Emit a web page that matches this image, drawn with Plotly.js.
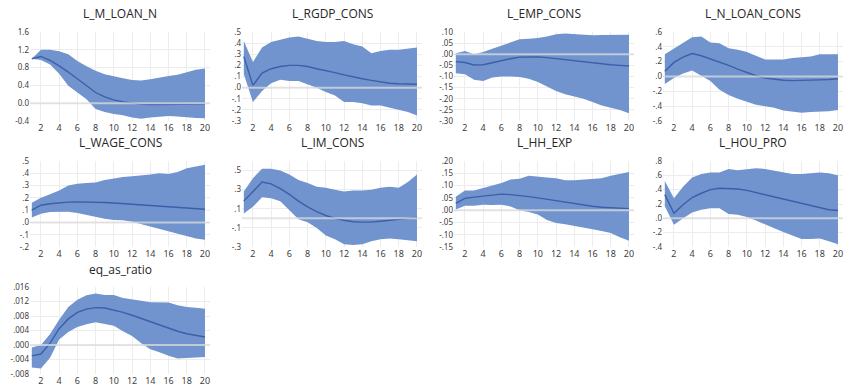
<!DOCTYPE html>
<html>
<head>
<meta charset="utf-8">
<script src="https://cdn.plot.ly/plotly-3.0.1.min.js"></script>
<style>
html,body{margin:0;padding:0;background:#fff;}
#chart{width:846px;height:387px;}
</style>
</head>
<body>
<div id="chart"></div>
<script>
var periods = [1,2,3,4,5,6,7,8,9,10,11,12,13,14,15,16,17,18,19,20];
var xTicks = [2,4,6,8,10,12,14,16,18,20];

var titles = ["L_M_LOAN_N","L_RGDP_CONS","L_EMP_CONS","L_N_LOAN_CONS","L_WAGE_CONS","L_IM_CONS","L_HH_EXP","L_HOU_PRO","eq_as_ratio"];

// L_M_LOAN_N
var mLoanMid = [1.0,1.05,0.96,0.84,0.70,0.54,0.38,0.24,0.14,0.075,0.03,0.0,-0.02,-0.03,-0.03,-0.03,-0.03,-0.025,-0.02,-0.02];
var mLoanUp  = [1.0,1.20,1.20,1.17,1.10,0.95,0.83,0.73,0.65,0.60,0.56,0.52,0.51,0.54,0.58,0.61,0.64,0.69,0.75,0.78];
var mLoanLo  = [1.0,0.97,0.87,0.66,0.39,0.24,0.09,-0.13,-0.20,-0.24,-0.27,-0.32,-0.35,-0.32,-0.30,-0.29,-0.30,-0.32,-0.33,-0.34];

// L_RGDP_CONS
var rgdpMid = [0.28,0.02,0.13,0.17,0.19,0.20,0.20,0.19,0.17,0.155,0.135,0.115,0.095,0.08,0.065,0.05,0.04,0.035,0.03,0.03];
var rgdpUp  = [0.42,0.23,0.36,0.41,0.43,0.45,0.46,0.44,0.42,0.41,0.41,0.42,0.39,0.37,0.31,0.33,0.34,0.34,0.35,0.36];
var rgdpLo  = [0.12,-0.13,-0.03,0.04,0.07,0.06,0.06,0.03,0.0,-0.04,-0.07,-0.13,-0.13,-0.14,-0.16,-0.16,-0.18,-0.20,-0.22,-0.25];

// L_EMP_CONS
var empMid = [-0.033,-0.037,-0.048,-0.047,-0.038,-0.028,-0.02,-0.013,-0.012,-0.012,-0.015,-0.02,-0.025,-0.03,-0.035,-0.04,-0.044,-0.047,-0.05,-0.053];
var empUp  = [0.005,0.015,0.0,0.01,0.025,0.04,0.055,0.067,0.07,0.073,0.08,0.09,0.093,0.09,0.085,0.085,0.087,0.088,0.087,0.088];
var empLo  = [-0.085,-0.09,-0.115,-0.12,-0.105,-0.10,-0.10,-0.102,-0.11,-0.125,-0.145,-0.165,-0.18,-0.19,-0.20,-0.215,-0.23,-0.24,-0.25,-0.265];

// L_N_LOAN_CONS
var nLoanMid = [0.07,0.19,0.26,0.31,0.28,0.24,0.20,0.15,0.10,0.05,0.01,-0.02,-0.04,-0.05,-0.055,-0.055,-0.05,-0.045,-0.04,-0.03];
var nLoanUp  = [0.30,0.38,0.45,0.53,0.54,0.46,0.45,0.38,0.36,0.33,0.28,0.23,0.23,0.23,0.25,0.26,0.27,0.30,0.30,0.30];
var nLoanLo  = [-0.10,-0.02,0.04,0.08,0.01,-0.06,-0.18,-0.25,-0.30,-0.34,-0.38,-0.40,-0.42,-0.46,-0.48,-0.49,-0.48,-0.48,-0.47,-0.45];

// L_WAGE_CONS
var wageMid = [0.10,0.14,0.152,0.16,0.165,0.167,0.167,0.165,0.162,0.158,0.153,0.148,0.143,0.138,0.133,0.128,0.123,0.118,0.113,0.107];
var wageUp  = [0.16,0.20,0.23,0.26,0.30,0.315,0.32,0.325,0.345,0.36,0.37,0.375,0.38,0.39,0.40,0.395,0.41,0.44,0.455,0.47];
var wageLo  = [0.04,0.07,0.085,0.087,0.087,0.077,0.06,0.043,0.03,0.02,0.018,0.005,-0.015,-0.035,-0.05,-0.07,-0.09,-0.11,-0.13,-0.14];

// L_IM_CONS
var imMid = [0.18,0.28,0.38,0.36,0.31,0.25,0.18,0.12,0.07,0.03,0.0,-0.02,-0.035,-0.04,-0.04,-0.03,-0.02,-0.01,0.0,0.01];
var imUp  = [0.28,0.42,0.52,0.52,0.50,0.46,0.40,0.37,0.33,0.32,0.30,0.28,0.29,0.29,0.30,0.32,0.33,0.32,0.38,0.46];
var imLo  = [0.05,0.12,0.22,0.21,0.18,0.09,-0.01,-0.04,-0.10,-0.18,-0.22,-0.27,-0.28,-0.27,-0.24,-0.22,-0.21,-0.22,-0.23,-0.24];

// L_HH_EXP
var hhMid = [0.028,0.048,0.053,0.058,0.062,0.065,0.063,0.06,0.055,0.05,0.044,0.038,0.032,0.026,0.021,0.016,0.012,0.009,0.007,0.006];
var hhUp  = [0.055,0.08,0.08,0.09,0.10,0.11,0.125,0.128,0.14,0.138,0.133,0.13,0.122,0.122,0.125,0.125,0.13,0.14,0.148,0.155];
var hhLo  = [0.003,0.018,0.018,0.022,0.021,0.022,0.015,0.0,-0.008,-0.018,-0.04,-0.052,-0.057,-0.065,-0.072,-0.078,-0.085,-0.093,-0.11,-0.125];

// L_HOU_PRO
var houMid = [0.33,0.07,0.19,0.29,0.35,0.40,0.42,0.42,0.41,0.39,0.36,0.33,0.30,0.26,0.23,0.20,0.17,0.14,0.12,0.11];
var houUp  = [0.52,0.28,0.44,0.57,0.62,0.64,0.64,0.69,0.67,0.68,0.70,0.69,0.67,0.64,0.62,0.62,0.63,0.64,0.63,0.60];
var houLo  = [0.17,-0.09,0.0,0.08,0.12,0.14,0.14,0.06,0.05,0.02,-0.03,-0.09,-0.14,-0.19,-0.24,-0.29,-0.29,-0.28,-0.32,-0.36];

// eq_as_ratio
var eqMid = [-0.003,-0.0025,0.0005,0.0045,0.0072,0.009,0.0099,0.0103,0.0102,0.0097,0.009,0.0082,0.0073,0.0064,0.0055,0.0046,0.0038,0.0031,0.0026,0.0022];
var eqUp  = [-0.0007,0.0,0.003,0.007,0.0105,0.0125,0.0137,0.0142,0.0138,0.0138,0.013,0.0127,0.0122,0.0118,0.0118,0.0117,0.011,0.0105,0.0103,0.010];
var eqLo  = [-0.0062,-0.0065,-0.0035,0.0015,0.0036,0.005,0.0057,0.0063,0.0058,0.0053,0.0038,0.0025,0.0005,-0.0012,-0.002,-0.003,-0.0037,-0.0035,-0.0034,-0.0033];

// y tick values per panel
var yTicks1 = [-0.4,0.0,0.4,0.8,1.2,1.6];
var yTicks2 = [-0.3,-0.2,-0.1,0.0,0.1,0.2,0.3,0.4,0.5];
var yTicks3 = [-0.30,-0.25,-0.20,-0.15,-0.10,-0.05,0.00,0.05,0.10];
var yTicks4 = [-0.6,-0.4,-0.2,0.0,0.2,0.4,0.6];
var yTicks5 = [-0.2,-0.1,0.0,0.1,0.2,0.3,0.4,0.5];
var yTicks6 = [-0.3,-0.1,0.1,0.3,0.5];
var yTicks7 = [-0.15,-0.10,-0.05,0.00,0.05,0.10,0.15,0.20];
var yTicks8 = [-0.4,-0.2,0.0,0.2,0.4,0.6,0.8];
var yTicks9 = [-0.008,-0.004,0.000,0.004,0.008,0.012,0.016];

var panels = [
  {mid:mLoanMid, up:mLoanUp, lo:mLoanLo, ticks:yTicks1, range:[-0.4,1.6], dec:1, lead:true},
  {mid:rgdpMid, up:rgdpUp, lo:rgdpLo, ticks:yTicks2, range:[-0.3,0.5], dec:1, lead:false},
  {mid:empMid, up:empUp, lo:empLo, ticks:yTicks3, range:[-0.30,0.10], dec:2, lead:false},
  {mid:nLoanMid, up:nLoanUp, lo:nLoanLo, ticks:yTicks4, range:[-0.6,0.6], dec:1, lead:false},
  {mid:wageMid, up:wageUp, lo:wageLo, ticks:yTicks5, range:[-0.2,0.5], dec:1, lead:false},
  {mid:imMid, up:imUp, lo:imLo, ticks:yTicks6, range:[-0.3,0.6], dec:1, lead:false},
  {mid:hhMid, up:hhUp, lo:hhLo, ticks:yTicks7, range:[-0.15,0.20], dec:2, lead:false},
  {mid:houMid, up:houUp, lo:houLo, ticks:yTicks8, range:[-0.4,0.8], dec:1, lead:false},
  {mid:eqMid, up:eqUp, lo:eqLo, ticks:yTicks9, range:[-0.008,0.016], dec:3, lead:false}
];

function fmt(v, dec, lead){
  var s = v.toFixed(dec);
  if (s.charAt(0) === '-' && Number(s) === 0) s = s.slice(1);
  if (!lead) s = s.replace(/^(-?)0\./, '$1.');
  return s;
}

var W = 846, H = 387;
var colLeft = [30, 242, 454, 663];
var plotW = 180;
var rowTop = [32, 161, 287];
var rowBot = [121, 247, 374];
var titleY = [13, 142, 269];

var fillColor = '#7194CF';
var lineColor = '#3C5FA7';
var data = [];
var layout = {
  width: W, height: H,
  margin: {l:0, r:0, t:0, b:0},
  paper_bgcolor: '#ffffff',
  plot_bgcolor: 'rgba(0,0,0,0)',
  showlegend: false,
  font: {family: 'Noto Sans, Open Sans, sans-serif', color: '#404040', size: 9},
  annotations: [],
  shapes: []
};

panels.forEach(function(p, i){
  var n = i + 1;
  var xa = 'x' + (n === 1 ? '' : n);
  var ya = 'y' + (n === 1 ? '' : n);
  var col = i % 4, row = Math.floor(i / 4);
  var x0 = colLeft[col], x1 = colLeft[col] + plotW;
  var y0 = rowTop[row], y1 = rowBot[row];

  data.push({x: periods, y: p.up, xaxis: xa, yaxis: ya, type: 'scatter', mode: 'lines',
             line: {width: 0, color: fillColor}, hoverinfo: 'skip'});
  data.push({x: periods, y: p.lo, xaxis: xa, yaxis: ya, type: 'scatter', mode: 'lines',
             fill: 'tonexty', fillcolor: fillColor, line: {width: 0, color: fillColor}, hoverinfo: 'skip'});
  data.push({x: periods, y: p.mid, xaxis: xa, yaxis: ya, type: 'scatter', mode: 'lines',
             line: {width: 1.4, color: lineColor}});

  var xKey = 'xaxis' + (n === 1 ? '' : n);
  var yKey = 'yaxis' + (n === 1 ? '' : n);
  layout[xKey] = {
    domain: [x0 / W, x1 / W],
    anchor: ya,
    range: [0.8, 20.55],
    tickvals: xTicks,
    ticktext: xTicks.map(String),
    showgrid: true, gridcolor: '#ececec', gridwidth: 1,
    zeroline: false, showline: false, ticks: '',
    tickfont: {size: 9, color: '#404040'},
    fixedrange: true
  };
  layout[yKey] = {
    domain: [1 - y1 / H, 1 - y0 / H],
    anchor: xa,
    range: p.range,
    tickvals: p.ticks,
    ticktext: p.ticks.map(function(v){ return fmt(v, p.dec, p.lead); }),
    showgrid: true, gridcolor: '#ececec', gridwidth: 1,
    zeroline: false, showline: false, ticks: '',
    tickfont: {size: 8, color: '#404040'},
    fixedrange: true
  };
  layout.shapes.push({
    type: 'line', layer: 'above',
    xref: xa + ' domain', x0: 0, x1: 1,
    yref: ya, y0: 0, y1: 0,
    line: {color: 'rgba(220,220,220,0.75)', width: 2}
  });
  layout.annotations.push({
    text: titles[i], showarrow: false,
    xref: 'paper', yref: 'paper',
    x: (x0 + x1) / 2 / W,
    y: 1 - titleY[row] / H,
    xanchor: 'center', yanchor: 'middle',
    borderpad: 0,
    font: {size: 12, color: '#262626', family: 'Open Sans, Noto Sans, sans-serif'}
  });
});

Plotly.newPlot('chart', data, layout, {displayModeBar: false, staticPlot: true});
</script>
</body>
</html>
